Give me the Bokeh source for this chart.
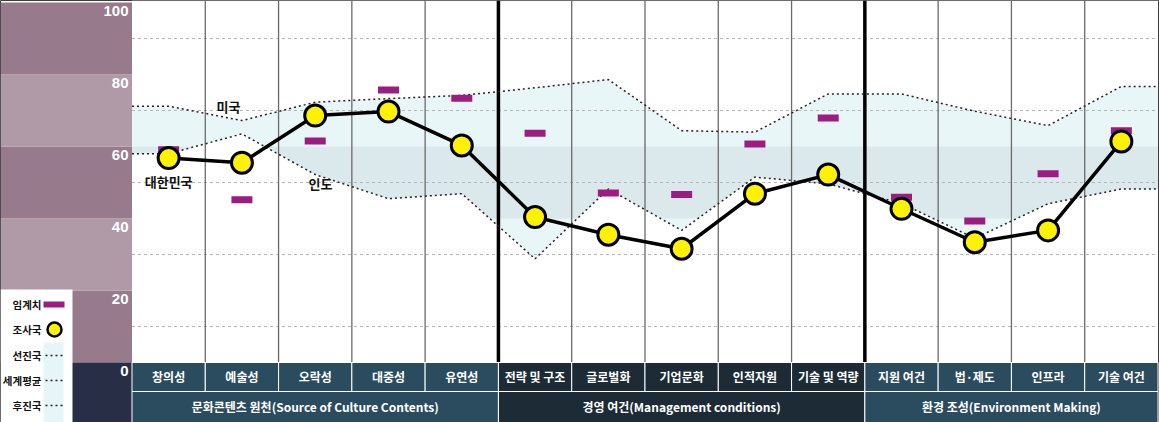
import numpy as np
from bokeh.plotting import figure
from bokeh.models import Range1d
from bokeh.embed import file_html
from bokeh.resources import INLINE
from bokeh.core.properties import value

# ---------------- data ----------------
categories = ["창의성", "예술성", "오락성", "대중성", "유연성",
              "전략 및 구조", "글로벌화", "기업문화", "인적자원", "기술 및 역량",
              "지원 여건", "법·제도", "인프라", "기술 여건"]
groups = ["문화콘텐츠 원천(Source of Culture Contents)",
          "경영 여건(Management conditions)",
          "환경 조성(Environment Making)"]
group_sizes = [5, 5, 4]
korea = [56.8, 55.5, 68.6, 69.7, 60.3, 40.4, 35.5, 31.6, 46.9, 52.2, 42.7, 33.4, 36.7, 61.4]
threshold = [59.1, 45.2, 61.5, 75.7, 73.4, 63.7, 47.1, 46.7, 60.7, 67.9, 45.9, 39.3, 52.4, 64.4]
advanced = [71.2, 67.2, 72.3, 73.3, 74.2, 76.3, 78.6, 64.4, 64.0, 74.6, 74.6, 69.8, 65.8, 76.7]
lagging = [58.0, 63.5, 52.2, 45.5, 46.9, 28.8, 48.2, 36.7, 51.5, 49.6, 44.2, 34.5, 44.1, 48.2]
y_ticks = [0, 20, 40, 60, 80, 100]
grid_values = [10, 30, 50, 70, 90]
legend_labels = ["임계치", "조사국", "선진국", "세계평균", "후진국"]

# ---------------- layout helpers ----------------
W, H = 1159, 422
PX = 73.29            # pixels per category column
PY = 3.6              # pixels per value unit
ZERO_PX = 362
X0 = -0.5 - 131.5 / PX
X1 = 13.5 + 1.5 / PX
Y1 = 100 + 2 / PY
Y0 = -(H - ZERO_PX) / PY

def xp(px):
    return X0 + px / PX

def yp(py):
    return (ZERO_PX - py) / PY

n = len(categories)
idx = np.arange(n)
x_ext = np.r_[-0.5, idx, n - 0.5]
adv_ext = np.r_[advanced[0], advanced, advanced[-1]]
lag_ext = np.r_[lagging[0], lagging, lagging[-1]]

KFONT = value("Noto Sans CJK KR")
NFONT = value("Liberation Sans")

p = figure(width=W, height=H, x_range=Range1d(X0, X1), y_range=Range1d(Y0, Y1),
           output_backend="svg", toolbar_location=None, min_border=0,
           x_axis_location=None, y_axis_location=None)
p.grid.visible = False
p.outline_line_color = "#3c3c3c"
p.background_fill_color = "white"
p.border_fill_color = "white"

# ---------------- left panel ----------------
dark_m, light_m = "#977a8b", "#b09aa8"
band_cols = [dark_m if i % 2 == 0 else light_m for i in range(len(y_ticks) - 1)]
p.quad(left=X0, right=-0.5, bottom=y_ticks[:-1], top=y_ticks[1:],
       fill_color=band_cols, line_color=None)
p.quad(left=X0, right=-0.5, bottom=Y0, top=0, fill_color="#282e45", line_color=None)

# legend box
p.quad(left=X0, right=xp(72), bottom=Y0, top=yp(289), fill_color="white", line_color=None)
p.quad(left=xp(43), right=xp(63), bottom=Y0, top=yp(342), fill_color="#e6f5f7", line_color=None)
leg_y = [yp(v) for v in (304, 329, 355, 380, 405)]
p.text(x=[xp(41)] * 5, y=leg_y, text=legend_labels, text_align="right",
       text_baseline="middle", text_font=KFONT, text_font_style="bold",
       text_font_size="10.5px", text_color="#111111")
p.rect(x=[xp(53.5)], y=[leg_y[0]], width=21, height=6, width_units="screen",
       height_units="screen", fill_color="#9c1d82", line_color=None)
p.scatter(x=[xp(54)], y=[leg_y[1]], size=14, fill_color="#fff200",
          line_color="black", line_width=2.5)
p.segment(x0=[xp(45)] * 3, x1=[xp(63)] * 3, y0=leg_y[2:], y1=leg_y[2:],
          line_color="#222222", line_width=1.5, line_dash="2 3")

# tick labels
p.text(x=[-0.5] * len(y_ticks), y=y_ticks, text=[str(v) for v in y_ticks],
       x_offset=-3.5, y_offset=8, text_align="right", text_baseline="middle",
       text_font=NFONT, text_font_style="bold", text_font_size="15px",
       text_color="white")

# ---------------- plot area ----------------
p.varea(x=x_ext, y1=lag_ext, y2=adv_ext, fill_color="#e9f6f7")
p.quad(left=-0.5, right=n - 0.5, bottom=40, top=60, fill_color="#dce9ec", line_color=None)
p.varea(x=x_ext, y1=adv_ext, y2=100, fill_color="white")
p.varea(x=x_ext, y1=0, y2=lag_ext, fill_color="white")
p.varea(x=[-0.5, n - 0.5], y1=[100, 100], y2=[Y1, Y1], fill_color="white")

# dashed gridlines
p.segment(x0=-0.5, x1=n - 0.5, y0=grid_values, y1=grid_values,
          line_color="#b5b5b5", line_width=1, line_dash="3 3")

# vertical separators
bounds = np.cumsum(group_sizes)[:-1]
seps = idx[:-1] + 0.5
thick = [s for s in seps if int(s + 0.5) in bounds]
thin = [s for s in seps if int(s + 0.5) not in bounds]
p.segment(x0=thin, x1=thin, y0=0, y1=Y1, line_color="#6a6a6a", line_width=1.3)
p.segment(x0=thick, x1=thick, y0=0, y1=Y1, line_color="black", line_width=3.5)

# upper / lower reference lines
p.line(x_ext, adv_ext, line_color="#222222", line_width=1.5, line_dash="2 3")
p.line(x_ext, lag_ext, line_color="#222222", line_width=1.5, line_dash="2 3")

# Korea line, thresholds, points
p.line(idx, korea, line_color="black", line_width=3.5)
p.rect(x=idx, y=threshold, width=21, height=7, width_units="screen",
       height_units="screen", fill_color="#9c1d82", line_color=None)
p.scatter(idx, korea, size=21, fill_color="#fff200", line_color="black", line_width=3)

# annotation labels
p.text(x=[0, xp(228), xp(320)], y=[korea[0], yp(106), yp(183)],
       y_offset=[23, 0, 0], text=["대한민국", "미국", "인도"],
       text_align="center", text_baseline="middle", text_font=KFONT,
       text_font_style="bold", text_font_size="13px", text_color="#111111")

# ---------------- bottom label rows ----------------
g_colors = ["#2b4b5e", "#1d2b36", "#2b4b5e"]
cell_colors = []
for g, s in enumerate(group_sizes):
    cell_colors += [g_colors[g]] * s
row1_bottom = yp(391)
p.quad(left=idx - 0.5, right=idx + 0.5, top=0, bottom=row1_bottom,
       fill_color=cell_colors, line_color="white", line_width=1)
starts = np.r_[0, np.cumsum(group_sizes)[:-1]]
ends = np.cumsum(group_sizes)
p.quad(left=starts - 0.5, right=ends - 0.5, top=row1_bottom, bottom=Y0,
       fill_color=g_colors, line_color="white", line_width=1)
p.text(x=idx, y=yp(376), text=categories, text_align="center", text_baseline="middle",
       text_font=KFONT, text_font_style="bold", text_font_size="12px", text_color="white")
p.text(x=(starts + ends) / 2 - 0.5, y=yp(406), text=groups, text_align="center",
       text_baseline="middle", text_font=KFONT, text_font_style="bold",
       text_font_size="12px", text_color="white")

open("out.html", "w").write(file_html(p, INLINE))
